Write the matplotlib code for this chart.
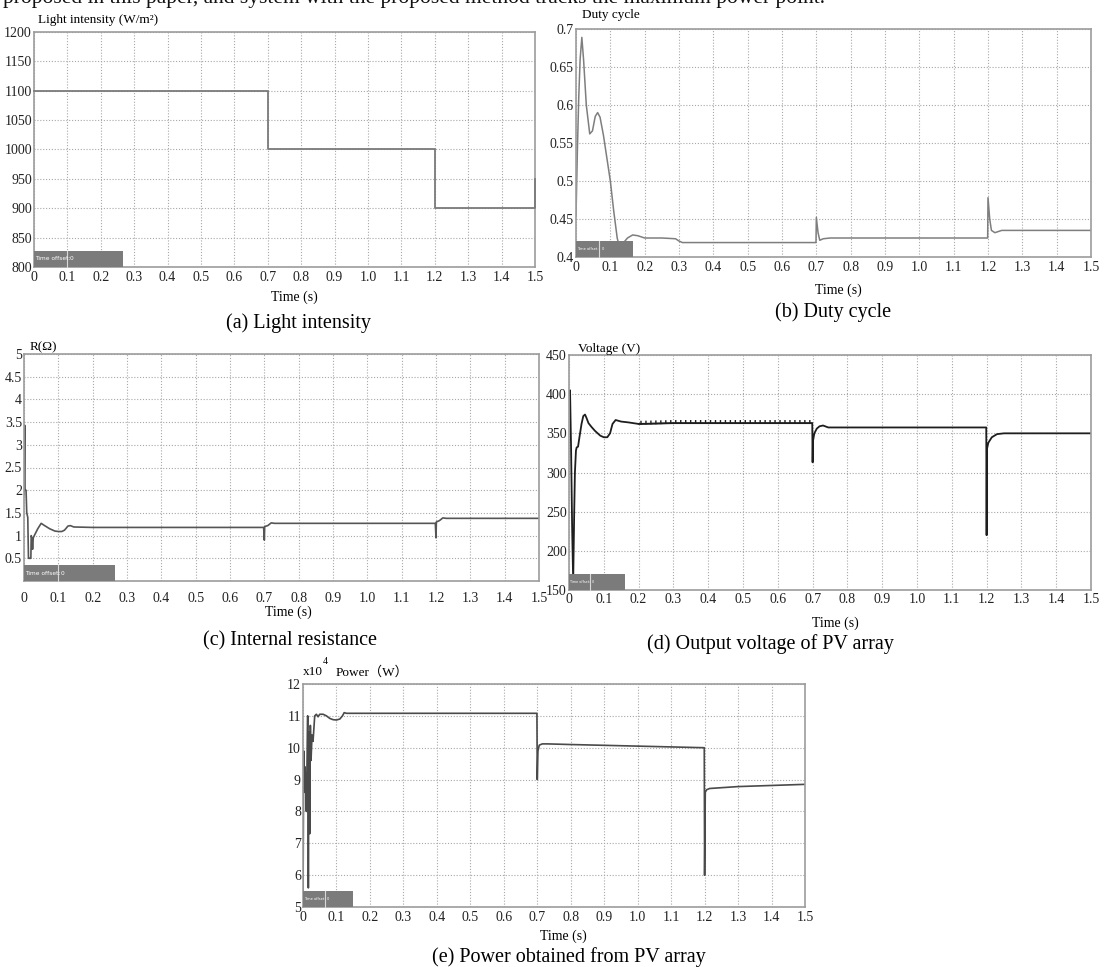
import matplotlib
matplotlib.use("Agg")
import matplotlib.pyplot as plt
from matplotlib.patches import Rectangle
from matplotlib.transforms import blended_transform_factory
import matplotlib.patheffects as pe
import numpy as np

plt.rcParams['font.family'] = ['Liberation Serif', 'DejaVu Serif']

W, H = 1110, 967

# ---------------- data ----------------
time_ticks = [0.0, 0.1, 0.2, 0.3, 0.4, 0.5, 0.6, 0.7, 0.8, 0.9, 1.0, 1.1, 1.2, 1.3, 1.4, 1.5]
time_tick_labels = ["0", "0.1", "0.2", "0.3", "0.4", "0.5", "0.6", "0.7", "0.8", "0.9",
                    "1.0", "1.1", "1.2", "1.3", "1.4", "1.5"]

# (a) irradiance steps
light_t = [0.0, 0.7, 0.7, 1.2, 1.2, 1.5, 1.5]
light_v = [1100, 1100, 1000, 1000, 900, 900, 950]
light_ticks = [800, 850, 900, 950, 1000, 1050, 1100, 1150, 1200]

# (b) converter duty cycle
duty_t = [0.0, 0.004, 0.008, 0.012, 0.017, 0.022, 0.03, 0.04, 0.048, 0.056, 0.063, 0.07,
          0.08, 0.09, 0.1, 0.11, 0.12, 0.126, 0.135, 0.15, 0.165, 0.18, 0.2, 0.25, 0.29,
          0.3, 0.31, 0.5, 0.699, 0.7, 0.705, 0.71, 0.72, 0.74, 1.0, 1.199, 1.2, 1.205,
          1.21, 1.22, 1.24, 1.5]
duty_v = [0.455, 0.54, 0.61, 0.66, 0.689, 0.66, 0.60, 0.562, 0.566, 0.585, 0.59, 0.584,
          0.56, 0.53, 0.50, 0.46, 0.425, 0.414, 0.417, 0.425, 0.429, 0.428, 0.425, 0.425,
          0.424, 0.421, 0.419, 0.419, 0.419, 0.452, 0.432, 0.422, 0.424, 0.425, 0.425,
          0.425, 0.478, 0.45, 0.435, 0.432, 0.435, 0.435]
duty_ticks = [0.4, 0.45, 0.5, 0.55, 0.6, 0.65, 0.7]
duty_tick_labels = ["0.4", "0.45", "0.5", "0.55", "0.6", "0.65", "0.7"]

# (c) equivalent internal resistance
res_t = [0.0, 0.002, 0.003, 0.006, 0.008, 0.011, 0.013, 0.015, 0.02, 0.021, 0.023, 0.025,
         0.027, 0.03, 0.04, 0.05, 0.06, 0.075, 0.09, 0.1, 0.11, 0.118, 0.128, 0.135, 0.145,
         0.2, 0.5, 0.698, 0.7, 0.701, 0.71, 0.72, 0.73, 1.198, 1.2, 1.201, 1.21, 1.22,
         1.23, 1.5]
res_v = [1.9, 3.43, 2.0, 2.0, 1.5, 1.4, 0.5, 0.5, 0.5, 1.0, 0.95, 0.7, 0.95, 1.0, 1.15,
         1.27, 1.22, 1.15, 1.1, 1.09, 1.09, 1.12, 1.21, 1.22, 1.19, 1.18, 1.18, 1.18, 0.9,
         1.2, 1.22, 1.28, 1.27, 1.27, 0.95, 1.3, 1.33, 1.39, 1.38, 1.38]
res_ticks = [0.5, 1, 1.5, 2, 2.5, 3, 3.5, 4, 4.5, 5]
res_tick_labels = ["0.5", "1", "1.5", "2", "2.5", "3", "3.5", "4", "4.5", "5"]

# (d) PV array voltage
volt_t = [0.0, 0.003, 0.006, 0.009, 0.012, 0.015, 0.017, 0.02, 0.022, 0.026, 0.03, 0.036,
          0.041, 0.046, 0.05, 0.056, 0.065, 0.075, 0.09, 0.1, 0.11, 0.118, 0.125, 0.134,
          0.15, 0.17, 0.2, 0.3, 0.5, 0.699, 0.7, 0.701, 0.705, 0.712, 0.72, 0.73, 0.745,
          1.0, 1.199, 1.2, 1.201, 1.205, 1.215, 1.23, 1.25, 1.5]
volt_v = [400, 405, 330, 230, 160, 250, 300, 328, 332, 333, 345, 362, 372, 374, 370, 363,
          358, 353, 347, 345, 345, 350, 362, 367, 365, 364, 362, 363, 363, 363, 313, 340,
          350, 356, 359, 360, 357.5, 357.5, 357.5, 220, 330, 338, 345, 349, 350, 350]
volt_ticks = [150, 200, 250, 300, 350, 400, 450]

# (e) PV array power, in units of 1e4 W
pow_t = [0.0, 0.002, 0.004, 0.006, 0.008, 0.010, 0.012, 0.014, 0.016, 0.018, 0.02, 0.022,
         0.024, 0.027, 0.03, 0.035, 0.04, 0.045, 0.05, 0.06, 0.07, 0.08, 0.09, 0.1, 0.11,
         0.118, 0.123, 0.13, 0.4, 0.699, 0.7, 0.702, 0.706, 0.715, 0.73, 0.8, 1.0, 1.199,
         1.2, 1.202, 1.206, 1.215, 1.3, 1.5]
pow_v = [5.0, 9.9, 8.6, 9.4, 8.8, 8.0, 9.5, 11.0, 5.6, 10.5, 7.3, 10.7, 9.6, 10.4, 10.2,
         11.0, 11.05, 10.97, 11.05, 11.05, 11.0, 10.92, 10.88, 10.87, 10.9, 11.0, 11.1,
         11.08, 11.08, 11.08, 9.0, 9.9, 10.08, 10.12, 10.12, 10.1, 10.05, 10.0, 6.0, 8.6,
         8.68, 8.72, 8.78, 8.85]
pow_ticks = [5, 6, 7, 8, 9, 10, 11, 12]


# ---------------- layout helpers ----------------
def box(left, top, right, bottom):
    return [left / W, 1 - bottom / H, (right - left) / W, (bottom - top) / H]


def fx(px):
    return px / W


def fy(py):
    return 1 - py / H


fig = plt.figure(figsize=(W / 100, H / 100), dpi=100)
fig.patch.set_facecolor("white")

SPINE = "#9c9c9c"
GRID = "#a8a8a8"


def scope(rect, ylim, yticks, ylabels=None, xpad=3, box_w=0.26, box_div=0.1, box_fs=4.2):
    ax = fig.add_axes(rect)
    ax.set_xlim(0, 1.5)
    ax.set_ylim(*ylim)
    ax.set_xticks(time_ticks)
    ax.set_xticklabels(time_tick_labels)
    ax.set_yticks(yticks)
    if ylabels is not None:
        ax.set_yticklabels(ylabels)
    ax.tick_params(length=0, labelsize=10, colors="#222222")
    ax.tick_params(axis="x", pad=xpad)
    ax.tick_params(axis="y", pad=1.5)
    ax.grid(True, linestyle=(0, (1, 1.6)), color=GRID, linewidth=0.8)
    ax.set_axisbelow(True)
    for s in ax.spines.values():
        s.set_color(SPINE)
        s.set_linewidth(1.2)
    # scope "Time offset" status bar
    tr = blended_transform_factory(ax.transData, ax.transAxes)
    ax.add_patch(Rectangle((0, 0), box_w, 0.07, transform=tr, facecolor="#7b7b7b",
                           edgecolor="none", zorder=5, clip_on=False))
    ax.plot([box_div, box_div], [0, 0.07], transform=tr, color="#d8d8d8", lw=0.8,
            zorder=6, clip_on=False)
    ax.text(0.003, 0.035, "Time offset:", transform=tr, fontsize=box_fs, color="white",
            va="center", ha="left", zorder=7, family="DejaVu Sans")
    ax.text(box_div + 0.006, 0.035, "0", transform=tr, fontsize=box_fs, color="white",
            va="center", ha="left", zorder=7, family="DejaVu Sans")
    return ax


# clipped line of body text running off the top edge
fig.text(fx(3), fy(2.5), "proposed in this paper, and system with the proposed method tracks the maximum power point.",
         fontsize=15.5, va="baseline", ha="left", color="#111111")

# (a)
axa = scope(box(34, 32, 535, 267), (800, 1200), light_ticks, box_w=0.265, box_div=0.1)
axa.plot(light_t, light_v, color="#7a7a7a", lw=1.3, clip_on=False, zorder=4)
fig.text(fx(38), fy(20), "Light intensity (W/m²)", fontsize=9.5, va="center", ha="left")
fig.text(fx(294), fy(297), "Time (s)", fontsize=10, va="center", ha="center")
fig.text(fx(298), fy(323), "(a) Light intensity", fontsize=14.5, va="center", ha="center")

# (b)
axb = scope(box(576, 29, 1091, 257), (0.4, 0.7), duty_ticks, duty_tick_labels,
            box_w=0.165, box_div=0.068, box_fs=2.6)
axb.plot(duty_t, duty_v, color="#7e7e7e", lw=1.1)
fig.text(fx(582), fy(15), "Duty cycle", fontsize=9.5, va="center", ha="left")
fig.text(fx(838), fy(290), "Time (s)", fontsize=10, va="center", ha="center")
fig.text(fx(833), fy(312), "(b) Duty cycle", fontsize=14.5, va="center", ha="center")

# (c)
axc = scope(box(24, 354, 539, 581), (0, 5), res_ticks, res_tick_labels, xpad=8,
            box_w=0.265, box_div=0.1)
axc.plot(res_t, res_v, color="#555555", lw=1.2)
fig.text(fx(30), fy(347), "R(Ω)", fontsize=9.5, va="center", ha="left")
fig.text(fx(288), fy(612), "Time (s)", fontsize=10, va="center", ha="center")
fig.text(fx(290), fy(641), "(c) Internal resistance", fontsize=14.5, va="center", ha="center")

# (d)
axd = scope(box(569, 355, 1091, 590), (150, 450), volt_ticks, xpad=2,
            box_w=0.16, box_div=0.06, box_fs=2.4)
axd.plot(volt_t, volt_v, color="#1e1e1e", lw=1.3)
vt = np.asarray(volt_t)
vv = np.asarray(volt_v, dtype=float)
steady = (vt >= 0.2) & (vt <= 0.699)
axd.plot(vt[steady], vv[steady], color="#1e1e1e", lw=1.0,
         path_effects=[pe.withTickedStroke(spacing=3.5, angle=90, length=0.5)])
fig.text(fx(578), fy(349), "Voltage (V)", fontsize=9.5, va="center", ha="left")
fig.text(fx(835), fy(623), "Time (s)", fontsize=10, va="center", ha="center")
fig.text(fx(770), fy(644), "(d) Output voltage of PV array", fontsize=14.5, va="center", ha="center")

# (e)
axe = scope(box(303, 684, 805, 907), (5, 12), pow_ticks, xpad=3,
            box_w=0.15, box_div=0.066, box_fs=2.6)
axe.plot(pow_t, pow_v, color="#4a4a4a", lw=1.2)
fig.text(fx(303), fy(672), "x10", fontsize=9.5, va="center", ha="left")
fig.text(fx(323), fy(661), "4", fontsize=7, va="center", ha="left")
fig.text(fx(336), fy(672), "Power（W）", fontsize=9.5, va="center", ha="left",
         family=["Liberation Serif", "Noto Sans CJK SC"])
fig.text(fx(563), fy(936), "Time (s)", fontsize=10, va="center", ha="center")
fig.text(fx(569), fy(957), "(e) Power obtained from PV array", fontsize=14.5, va="center", ha="center")

fig.savefig("out.png", dpi=100, facecolor="white")
